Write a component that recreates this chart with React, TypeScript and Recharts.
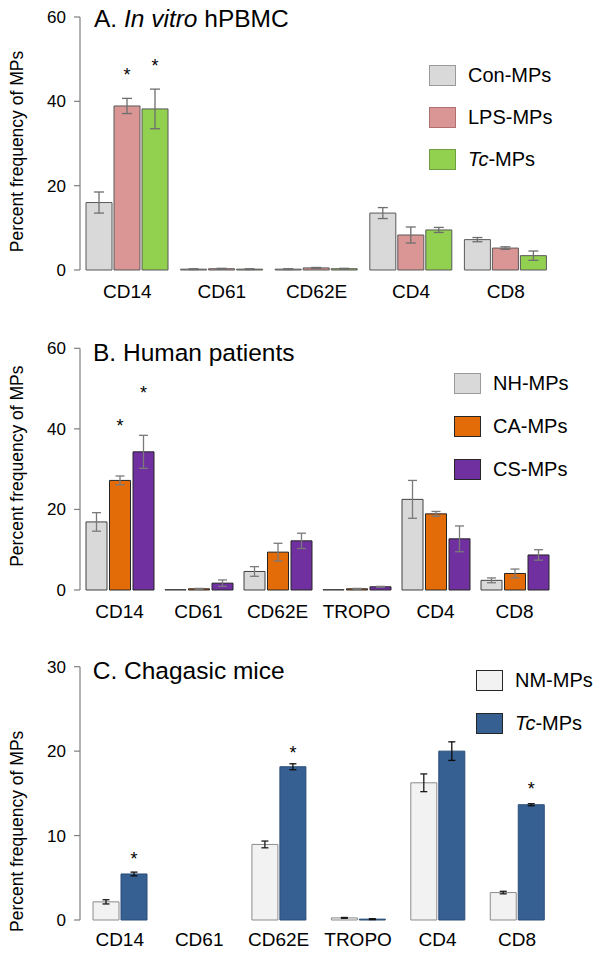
import React from 'react';
import { BarChart, Bar, XAxis, YAxis, ErrorBar, LabelList, Legend } from 'recharts';

const FONT = '"Liberation Sans", Arial, Helvetica, sans-serif';

// ---------- Panel A: In vitro hPBMC ----------
const catsA = ['CD14', 'CD61', 'CD62E', 'CD4', 'CD8'];
const conA = [16.0, 0.2, 0.2, 13.5, 7.2];
const conErrA = [2.5, 0.1, 0.1, 1.3, 0.5];
const lpsA = [38.9, 0.3, 0.5, 8.3, 5.2];
const lpsErrA = [1.8, 0.1, 0.1, 1.9, 0.3];
const tcA = [38.2, 0.2, 0.3, 9.5, 3.4];
const tcErrA = [4.7, 0.1, 0.1, 0.6, 1.1];
const starConA = [null, null, null, null, null];
const starLpsA = [47.1, null, null, null, null];
const starTcA = [49.3, null, null, null, null];
const ticksA = [0, 20, 40, 60];

// ---------- Panel B: Human patients ----------
const catsB = ['CD14', 'CD61', 'CD62E', 'TROPO', 'CD4', 'CD8'];
const nhB = [16.9, 0.1, 4.6, 0.1, 22.5, 2.4];
const nhErrB = [2.3, 0.0, 1.2, 0.0, 4.7, 0.6];
const caB = [27.2, 0.3, 9.4, 0.3, 18.9, 4.1];
const caErrB = [1.1, 0.1, 2.2, 0.1, 0.6, 1.1];
const csB = [34.3, 1.7, 12.2, 0.8, 12.7, 8.7];
const csErrB = [4.1, 0.8, 1.9, 0.1, 3.2, 1.3];
const starNhB = [null, null, null, null, null, null];
const starCaB = [41.8, null, null, null, null, null];
const starCsB = [49.8, null, null, null, null, null];
const ticksB = [0, 20, 40, 60];

// ---------- Panel C: Chagasic mice ----------
const catsC = ['CD14', 'CD61', 'CD62E', 'TROPO', 'CD4', 'CD8'];
const nmC = [2.15, 0, 8.95, 0.25, 16.25, 3.25];
const nmErrC = [0.25, 0, 0.4, 0.05, 1.05, 0.15];
const tcC = [5.45, 0, 18.15, 0.1, 20.0, 13.65];
const tcErrC = [0.22, 0, 0.35, 0.05, 1.1, 0.12];
const starNmC = [null, null, null, null, null, null];
const starTcC = [7.7, null, 20.3, null, null, 16.0];
const ticksC = [0, 10, 20, 30];

type Series = {
  key: string;
  name: string;
  italic?: string;
  values: number[];
  errors: number[];
  stars: (number | null)[];
  fill: string;
  stroke: string;
  legendStroke: string;
  errColor: string;
};

type PanelCfg = {
  top: number;
  height: number;
  marginTop: number;
  marginRight: number;
  axisHeight: number;
  tickMargin: number;
  yMax: number;
  yTicks: number[];
  title: React.ReactNode;
  titleX: number;
  titleY: number;
  cats: string[];
  series: Series[];
  barSize: number;
  barGap: number;
  capWidth: number;
  legendLeft: number;
  legendTop: number;
  legendGap: number;
  labelShift: number;
};

function buildRows(cats: string[], series: Series[]) {
  return cats.map((c, i) => {
    const row: any = { cat: c, idx: i + 0.5 };
    series.forEach((s) => {
      row[s.key] = s.values[i];
      row[s.key + 'Err'] = s.errors[i];
      row[s.key + 'Star'] = s.stars[i];
    });
    return row;
  });
}

// value passed to the label encodes "starValue|barValue"
const starAccessor = (key: string) => (row: any) => {
  const s = row[key + 'Star'];
  if (s == null) return '';
  return `${s}|${row[key]}`;
};

const StarLabel = (props: any) => {
  const value = props.value;
  if (!value || typeof value !== 'string' || value.indexOf('|') < 0) return null;
  const [sv, bv] = value.split('|').map(Number);
  const vb = props.viewBox || props;
  const x = vb.x ?? props.x;
  const y = vb.y ?? props.y;
  const width = vb.width ?? props.width;
  const height = vb.height ?? props.height;
  if (!bv || !height) return null;
  const ppu = height / bv;
  const cy = y + height - sv * ppu;
  return (
    <text
      x={x + width / 2}
      y={cy + 10}
      textAnchor="middle"
      fontFamily={FONT}
      fontSize={18}
      fill="#000"
    >
      *
    </text>
  );
};

const makeLegend = (series: Series[], gap: number) => () => (
  <div style={{ fontFamily: FONT }}>
    {series.map((s, i) => (
      <div
        key={s.key}
        style={{
          display: 'flex',
          alignItems: 'center',
          height: 21,
          marginBottom: i < series.length - 1 ? gap : 0,
        }}
      >
        <div
          style={{
            width: 25,
            height: 19,
            background: s.fill,
            border: `1px solid ${s.legendStroke}`,
          }}
        />
        <span style={{ marginLeft: 12, fontSize: 20, color: '#000', whiteSpace: 'nowrap', lineHeight: '21px' }}>
          {s.italic ? <i>{s.italic}</i> : null}
          {s.name}
        </span>
      </div>
    ))}
  </div>
);

function Panel({ cfg }: { cfg: PanelCfg }) {
  const rows = buildRows(cfg.cats, cfg.series);
  const n = cfg.cats.length;
  const bndTicks = Array.from({ length: n + 1 }, (_, i) => i);
  const axisColor = '#7f7f7f';
  return (
    <div style={{ position: 'absolute', left: 0, top: cfg.top }}>
      <BarChart
        width={604}
        height={cfg.height}
        data={rows}
        margin={{ top: cfg.marginTop, right: cfg.marginRight, bottom: 0, left: 0 }}
        barGap={cfg.barGap}
        barSize={cfg.barSize}
        style={{ fontFamily: FONT }}
      >
        <XAxis
          xAxisId="bnd"
          type="number"
          dataKey="idx"
          domain={[0, n]}
          allowDataOverflow
          ticks={bndTicks}
          tickFormatter={() => ''}
          height={0}
          tickSize={6}
          axisLine={{ stroke: axisColor, strokeWidth: 1.2 }}
          tickLine={{ stroke: axisColor, strokeWidth: 1.2 }}
          interval={0}
        />
        <XAxis
          xAxisId="cat"
          dataKey="cat"
          type="category"
          height={cfg.axisHeight}
          axisLine={false}
          tickLine={false}
          tickSize={0}
          tickMargin={cfg.tickMargin}
          interval={0}
          tick={{ fill: '#000', fontSize: 19, fontFamily: FONT }}
        />
        <YAxis
          width={80}
          domain={[0, cfg.yMax]}
          ticks={cfg.yTicks}
          interval={0}
          tickSize={6}
          tickMargin={8}
          axisLine={{ stroke: axisColor, strokeWidth: 1.2 }}
          tickLine={{ stroke: axisColor, strokeWidth: 1.2 }}
          tick={{ fill: '#000', fontSize: 17, fontFamily: FONT }}
          label={{
            content: (p: any) => {
              const vb = p.viewBox || { x: 0, y: 0, width: 80, height: 0 };
              const cx = vb.x + 17;
              const cy = vb.y + vb.height / 2 + cfg.labelShift;
              return (
                <text
                  x={cx}
                  y={cy}
                  transform={`rotate(-90, ${cx}, ${cy})`}
                  textAnchor="middle"
                  dominantBaseline="central"
                  fontFamily={FONT}
                  fontSize={17.5}
                  fill="#000"
                >
                  Percent frequency of MPs
                </text>
              );
            },
          }}
        />
        {cfg.series.map((s) => (
          <Bar
            key={s.key}
            xAxisId="cat"
            dataKey={s.key}
            name={s.name}
            fill={s.fill}
            stroke={s.stroke}
            strokeWidth={1}
            isAnimationActive={false}
          >
            <ErrorBar
              dataKey={s.key + 'Err'}
              width={cfg.capWidth}
              stroke={s.errColor}
              strokeWidth={1.3}
              direction="y"
              isAnimationActive={false}
            />
            <LabelList dataKey={starAccessor(s.key)} content={StarLabel} />
          </Bar>
        ))}
        <Legend
          layout="vertical"
          align="center"
          verticalAlign="middle"
          wrapperStyle={{ position: 'absolute', left: cfg.legendLeft, top: cfg.legendTop, width: 'auto' }}
          content={makeLegend(cfg.series, cfg.legendGap)}
        />
        <text x={cfg.titleX} y={cfg.titleY} fontFamily={FONT} fontSize={24.5} fill="#000">
          {cfg.title}
        </text>
      </BarChart>
    </div>
  );
}

const panelA: PanelCfg = {
  top: 0,
  height: 315,
  marginTop: 17,
  marginRight: 51,
  axisHeight: 45,
  tickMargin: 15,
  yMax: 60,
  yTicks: ticksA,
  title: (
    <>
      <tspan>A. </tspan>
      <tspan fontStyle="italic">In vitro</tspan>
      <tspan> hPBMC</tspan>
    </>
  ),
  titleX: 94,
  titleY: 27,
  cats: catsA,
  series: [
    { key: 'con', name: 'Con-MPs', values: conA, errors: conErrA, stars: starConA, fill: '#d9d9d9', stroke: '#595959', legendStroke: '#9a9a9a', errColor: '#6e6e6e' },
    { key: 'lps', name: 'LPS-MPs', values: lpsA, errors: lpsErrA, stars: starLpsA, fill: '#d99694', stroke: '#595959', legendStroke: '#b07070', errColor: '#6e6e6e' },
    { key: 'tc', name: '-MPs', italic: 'Tc', values: tcA, errors: tcErrA, stars: starTcA, fill: '#92d050', stroke: '#595959', legendStroke: '#6fa040', errColor: '#6e6e6e' },
  ],
  barSize: 26,
  barGap: 2,
  capWidth: 5,
  legendLeft: 429,
  legendTop: 65,
  legendGap: 21,
  labelShift: 8,
};

const panelB: PanelCfg = {
  top: 315,
  height: 320,
  marginTop: 33.3,
  marginRight: 50,
  axisHeight: 45,
  tickMargin: 15,
  yMax: 60,
  yTicks: ticksB,
  title: 'B. Human patients',
  titleX: 93,
  titleY: 46,
  cats: catsB,
  series: [
    { key: 'nh', name: 'NH-MPs', values: nhB, errors: nhErrB, stars: starNhB, fill: '#d9d9d9', stroke: '#404040', legendStroke: '#9a9a9a', errColor: '#7a7a7a' },
    { key: 'ca', name: 'CA-MPs', values: caB, errors: caErrB, stars: starCaB, fill: '#e36c09', stroke: '#262626', legendStroke: '#262626', errColor: '#7a7a7a' },
    { key: 'cs', name: 'CS-MPs', values: csB, errors: csErrB, stars: starCsB, fill: '#7030a0', stroke: '#262626', legendStroke: '#262626', errColor: '#7a7a7a' },
  ],
  barSize: 21,
  barGap: 2.5,
  capWidth: 4.5,
  legendLeft: 454,
  legendTop: 57.5,
  legendGap: 22,
  labelShift: -3,
};

const panelC: PanelCfg = {
  top: 635,
  height: 322,
  marginTop: 31.7,
  marginRight: 47.3,
  axisHeight: 37,
  tickMargin: 13,
  yMax: 30,
  yTicks: ticksC,
  title: 'C. Chagasic mice',
  titleX: 92.7,
  titleY: 44.3,
  cats: catsC,
  series: [
    { key: 'nm', name: 'NM-MPs', values: nmC, errors: nmErrC, stars: starNmC, fill: '#f2f2f2', stroke: '#8c8c8c', legendStroke: '#262626', errColor: '#1a1a1a' },
    { key: 'tcm', name: '-MPs', italic: 'Tc', values: tcC, errors: tcErrC, stars: starTcC, fill: '#376092', stroke: '#2a4c78', legendStroke: '#262626', errColor: '#0d0d0d' },
  ],
  barSize: 26,
  barGap: 2,
  capWidth: 3.5,
  legendLeft: 476,
  legendTop: 35,
  legendGap: 21.5,
  labelShift: 38,
};

export default function App() {
  return (
    <div
      style={{
        position: 'absolute',
        left: 0,
        top: 0,
        width: 604,
        height: 957,
        background: '#fff',
        overflow: 'hidden',
        fontFamily: FONT,
      }}
    >
      <Panel cfg={panelA} />
      <Panel cfg={panelB} />
      <Panel cfg={panelC} />
    </div>
  );
}
